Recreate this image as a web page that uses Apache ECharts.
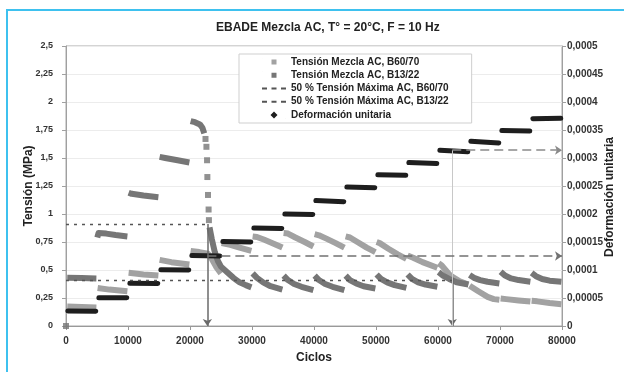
<!DOCTYPE html>
<html><head><meta charset="utf-8">
<script src="https://cdn.jsdelivr.net/npm/echarts@6/dist/echarts.min.js"></script>
<style>html,body{margin:0;padding:0;background:#fff}#c{width:624px;height:372px}</style>
</head><body><div id="c"></div>
<script>
// ---- tick labels ----
const xTickLabels = ['0','10000','20000','30000','40000','50000','60000','70000','80000'];
const leftTickLabels = ['0','0,25','0,5','0,75','1','1,25','1,5','1,75','2','2,25','2,5'];
const rightTickLabels = ['0','0,00005','0,0001','0,00015','0,0002','0,00025','0,0003','0,00035','0,0004','0,00045','0,0005'];

// ---- Tensión Mezcla AC, B60/70 (MPa) : segments of [ciclos, tensión] ----
const b6070Segments = [
  [[200,0.175],[2500,0.17],[4900,0.165]],
  [[5100,0.34],[7000,0.325],[9900,0.31]],
  [[10100,0.475],[12500,0.46],[14900,0.45]],
  [[15100,0.59],[17000,0.57],[19900,0.55]],
  [[20100,0.67],[21500,0.66],[22900,0.645],[23500,0.60],[24200,0.53],[25000,0.47]],
  [[25100,0.74],[26500,0.725],[28000,0.70],[29900,0.67]],
  [[30100,0.80],[30800,0.795],[32000,0.77],[33500,0.735],[34900,0.70]],
  [[35100,0.83],[35800,0.825],[37000,0.79],[38500,0.75],[39900,0.71]],
  [[40100,0.82],[40800,0.81],[42000,0.78],[43500,0.74],[44900,0.70]],
  [[45100,0.80],[45800,0.79],[47000,0.75],[48500,0.70],[49900,0.66]],
  [[50100,0.75],[50600,0.74],[52000,0.69],[53500,0.64],[54900,0.60]],
  [[55100,0.63],[56000,0.61],[57500,0.57],[59900,0.52]],
  [[60100,0.56],[60600,0.54],[62000,0.45],[63500,0.40],[64900,0.37]],
  [[65100,0.36],[66500,0.31],[68000,0.26],[69000,0.24],[69900,0.235]],
  [[70100,0.245],[71000,0.24],[73000,0.228],[74900,0.218]],
  [[75100,0.225],[76000,0.22],[78000,0.205],[79900,0.195]]
];

// ---- Tensión Mezcla AC, B13/22 (MPa) ----
const b1322Segments = [
  [[200,0.43],[2500,0.428],[4900,0.425]],
  [[5050,0.79],[5250,0.83],[6500,0.825],[8000,0.812],[9900,0.80]],
  [[10100,1.19],[10600,1.18],[12500,1.165],[14900,1.15]],
  [[15100,1.51],[16000,1.50],[18000,1.48],[19900,1.46]],
  [[20100,1.83],[20800,1.82],[21600,1.80],[22000,1.77],[22300,1.72]],
  [[23150,0.88],[23500,0.78],[24000,0.66],[24500,0.58],[25000,0.53],[26000,0.48],[27000,0.43],[28000,0.39],[29000,0.365],[29900,0.345]],
  [[30100,0.47],[30800,0.43],[31800,0.39],[33000,0.355],[34900,0.325]],
  [[35100,0.45],[35800,0.41],[36800,0.375],[38000,0.35],[39900,0.32]],
  [[40100,0.45],[40800,0.41],[41800,0.375],[43000,0.35],[44900,0.32]],
  [[45100,0.45],[45800,0.41],[46800,0.38],[48000,0.355],[49900,0.335]],
  [[50100,0.46],[50800,0.42],[51800,0.39],[53000,0.365],[54900,0.34]],
  [[55100,0.46],[55800,0.42],[56800,0.39],[58000,0.37],[59900,0.35]],
  [[60100,0.48],[60800,0.45],[61800,0.42],[63000,0.39],[64900,0.37]],
  [[65100,0.455],[65800,0.43],[66800,0.41],[68000,0.395],[69900,0.38]],
  [[70100,0.485],[70800,0.45],[71800,0.425],[73000,0.41],[74900,0.395]],
  [[75100,0.475],[75800,0.445],[76800,0.42],[78000,0.405],[79900,0.395]]
];
// isolated readings of B13/22 during the fast drop (and the origin)
const b1322Drop = [[0,0],[22500,1.67],[22650,1.60],[22750,1.48],[22800,1.33],[22900,1.17],[23000,1.04],[23050,0.945]];

// ---- Deformación unitaria (right axis) ----
const strainSegments = [
  [[300,0.0000270],[4800,0.0000265]],
  [[5300,0.0000505],[9800,0.0000503]],
  [[10300,0.0000765],[14800,0.0000760]],
  [[15300,0.0001005],[19800,0.0001000]],
  [[20300,0.0001260],[24800,0.0001250]],
  [[25300,0.0001510],[29800,0.0001500]],
  [[30300,0.0001750],[34800,0.0001740]],
  [[35300,0.0002000],[39800,0.0001990]],
  [[40300,0.0002240],[44800,0.0002220]],
  [[45300,0.0002480],[49800,0.0002470]],
  [[50300,0.0002700],[54800,0.0002690]],
  [[55300,0.0002920],[59800,0.0002900]],
  [[60300,0.0003140],[64800,0.0003110]],
  [[65300,0.0003300],[69800,0.0003270]],
  [[70300,0.0003490],[74800,0.0003480]],
  [[75300,0.0003700],[79800,0.0003710]]
];

// ---- reference levels ----
const halfMaxB6070 = 0.41;
const halfMaxB1322 = 0.91;
const failCycleB1322 = 22800;
const failCycleB6070 = 62300;
const strainAtFailB1322 = 0.000125;
const strainAtFailB6070 = 0.000314;

function joinSegments(segs){
  const out = [];
  segs.forEach((s,i)=>{ if(i>0) out.push([s[0][0]-50,'-']); s.forEach(p=>out.push(p)); });
  return out;
}

const FONT = "'Liberation Sans', Arial, sans-serif";
const chart = echarts.init(document.getElementById('c'), null, {renderer:'canvas'});

const sqIcon = 'path://M0,0h0.1v0.1h-0.1z M24,8h-0.1v-0.1h0.1z M9.5,1.5h5v5h-5z';
const dashIcon = 'path://M0,3h5v2h-5z M9.5,3h5v2h-5z M19,3h5v2h-5z';
const diaIcon = 'path://M0,0h0.1v0.1h-0.1z M24,8h-0.1v-0.1h0.1z M12,0.5L15.5,4L12,7.5L8.5,4z';

chart.setOption({
  animation:false,
  backgroundColor:'#fff',
  graphic:[{type:'rect', shape:{x:7,y:10,width:700,height:500}, style:{fill:'none', stroke:'#3ec1ef', lineWidth:2}, z:0}],
  title:{text:'EBADE Mezcla AC, T° = 20°C, F = 10 Hz', left:211, top:17,
    textStyle:{fontFamily:FONT, fontSize:12, fontWeight:'bold', color:'#222'}},
  legend:{
    left:239, top:54, orient:'vertical', itemWidth:24, itemHeight:8, itemGap:1,
    padding:[2,23,2,23], backgroundColor:'#fff', borderColor:'#cfcfcf', borderWidth:1,
    textStyle:{fontFamily:FONT, fontSize:10, fontWeight:'bold', color:'#222', lineHeight:12.2},
    data:[
      {name:'Tensión Mezcla AC, B60/70', icon:sqIcon},
      {name:'Tensión Mezcla AC, B13/22', icon:sqIcon},
      {name:'50 % Tensión Máxima AC, B60/70', icon:dashIcon},
      {name:'50 % Tensión Máxima AC, B13/22', icon:dashIcon},
      {name:'Deformación unitaria', icon:diaIcon}
    ]
  },
  grid:{left:66, right:62, top:46, bottom:46, show:true, borderColor:'#a8a8a8', borderWidth:1,
    outerBoundsMode:'none', containLabel:false},
  xAxis:{type:'value', min:0, max:80000, interval:10000,
    name:'Ciclos', nameLocation:'middle', nameGap:26, nameMoveOverlap:false,
    nameTextStyle:{fontFamily:FONT, fontSize:12, fontWeight:'bold', color:'#222'},
    axisLine:{lineStyle:{color:'#999'}}, axisTick:{show:true, length:4, lineStyle:{color:'#999'}},
    splitLine:{show:false},
    axisLabel:{margin:10, fontFamily:FONT, fontSize:10, fontWeight:'bold', color:'#333',
      formatter:v=>xTickLabels[Math.round(v/10000)]}},
  yAxis:[
    {type:'value', min:0, max:2.5, interval:0.25, position:'left',
     name:'Tensión (MPa)', nameLocation:'middle', nameGap:31, nameMoveOverlap:false,
     nameTextStyle:{fontFamily:FONT, fontSize:12, fontWeight:'bold', color:'#222'},
     axisLine:{show:true, lineStyle:{color:'#a0a0a0'}}, axisTick:{show:true, length:4, lineStyle:{color:'#a0a0a0'}},
     splitLine:{show:true, lineStyle:{color:'#ececec'}},
     axisLabel:{margin:13, fontFamily:FONT, fontSize:9, fontWeight:'bold', color:'#333',
       formatter:v=>leftTickLabels[Math.round(v/0.25)]}},
    {type:'value', min:0, max:0.0005, interval:0.00005, position:'right',
     name:'Deformación unitaria', nameLocation:'middle', nameGap:42, nameMoveOverlap:false,
     nameTextStyle:{fontFamily:FONT, fontSize:12, fontWeight:'bold', color:'#222', padding:[0,22,0,0]},
     axisLine:{show:true, lineStyle:{color:'#a0a0a0'}}, axisTick:{show:true, length:4, lineStyle:{color:'#a0a0a0'}},
     splitLine:{show:false},
     axisLabel:{margin:5, fontFamily:FONT, fontSize:10, fontWeight:'bold', color:'#333',
       formatter:v=>rightTickLabels[Math.round(v/0.00005)]}}
  ],
  series:[
    {name:'50 % Tensión Máxima AC, B60/70', type:'line', data:[], color:'#555', silent:true,
     markLine:{silent:true, symbol:'none', label:{show:false}, animation:false,
       lineStyle:{type:[3,5], color:'#555', width:1.3},
       data:[[{coord:[0,halfMaxB6070]},{coord:[failCycleB6070,halfMaxB6070]}]]}},
    {name:'50 % Tensión Máxima AC, B13/22', type:'line', data:[], color:'#555', silent:true,
     markLine:{silent:true, symbol:'none', label:{show:false}, animation:false,
       lineStyle:{type:[3,5], color:'#555', width:1.3},
       data:[[{coord:[0,halfMaxB1322]},{coord:[failCycleB1322,halfMaxB1322]}]]}},
    {name:'Tensión Mezcla AC, B60/70', type:'line', data:joinSegments(b6070Segments), color:'#a2a2a2',
     showSymbol:false, connectNulls:false, lineStyle:{width:6, color:'#a2a2a2', cap:'butt', join:'round'}},
    {name:'Tensión Mezcla AC, B13/22', type:'line', data:joinSegments(b1322Segments), color:'#767676',
     showSymbol:false, connectNulls:false, lineStyle:{width:6, color:'#767676', cap:'butt', join:'round'}},
    {name:'Tensión Mezcla AC, B13/22', type:'scatter', data:b1322Drop, symbol:'rect', symbolSize:6,
     itemStyle:{color:'#767676'}},
    {name:'Deformación unitaria', type:'line', yAxisIndex:1, data:joinSegments(strainSegments), color:'#1e1e1e',
     showSymbol:false, connectNulls:false, lineStyle:{width:5, color:'#1e1e1e', cap:'round'}},
    {name:'arrowsStress', type:'line', data:[], silent:true,
     markLine:{silent:true, label:{show:false}, animation:false, symbolSize:7,
       lineStyle:{type:'solid', color:'#6a6a6a', width:1.5},
       data:[
         [{coord:[failCycleB1322,halfMaxB1322], symbol:'none'},{coord:[failCycleB1322,0], symbol:'arrow'}],
         [{coord:[failCycleB6070,halfMaxB6070+0.02], symbol:'none'},{coord:[failCycleB6070,0], symbol:'arrow'}]
       ]}},
    {name:'arrowsStrain', type:'line', yAxisIndex:1, data:[], silent:true,
     markLine:{silent:true, label:{show:false}, animation:false, symbolSize:7,
       data:[
         [{coord:[failCycleB6070,strainAtFailB6070], symbol:'none', lineStyle:{type:'solid', color:'#c8c8c8', width:1}},
          {coord:[failCycleB6070,0], symbol:'none'}],
         [{coord:[failCycleB1322,strainAtFailB1322], symbol:'none', lineStyle:{type:[9,5], color:'#727272', width:1.6}},
          {coord:[80000,strainAtFailB1322], symbol:'arrow'}],
         [{coord:[failCycleB6070,strainAtFailB6070], symbol:'none', lineStyle:{type:[9,5], color:'#8a8a8a', width:1.6}},
          {coord:[80000,strainAtFailB6070], symbol:'arrow'}]
       ]}}
  ]
});
</script></body></html>
